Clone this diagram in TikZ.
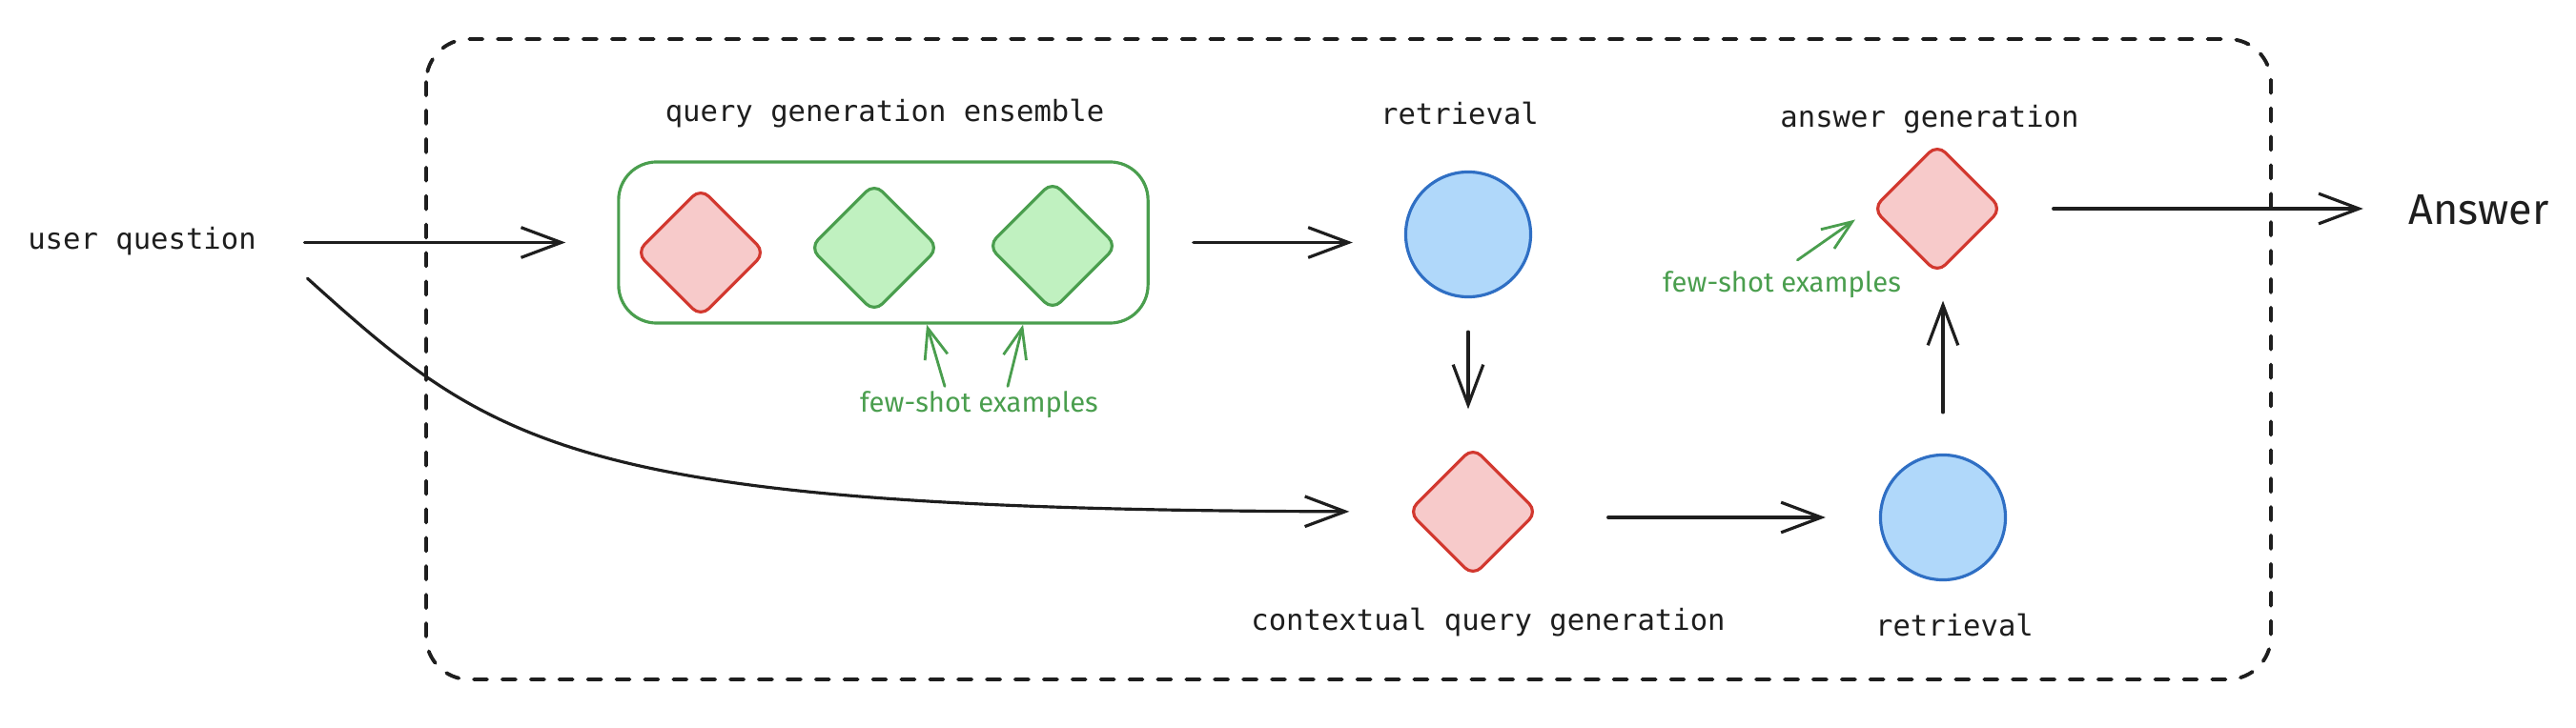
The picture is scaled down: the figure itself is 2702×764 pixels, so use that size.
\documentclass[tikz,border=0pt]{standalone}
\usepackage{fontspec}
\setmainfont{Fira Sans}
\newfontfamily\labelfont{DejaVu Sans Mono}
\usetikzlibrary{arrows.meta,shapes.geometric}
\definecolor{ink}{HTML}{1E1E1E}
\definecolor{redline}{HTML}{D2382F}
\definecolor{redfill}{HTML}{F7CACA}
\definecolor{greenline}{HTML}{4A9E4E}
\definecolor{greenfill}{HTML}{C0F1C0}
\definecolor{blueline}{HTML}{2F6FC4}
\definecolor{bluefill}{HTML}{B0D8FA}
\begin{document}
\begin{tikzpicture}[x=0.01cm, y=-0.01cm,
        lbl/.style={anchor=base, inner sep=0pt, text=ink, font=\labelfont\fontsize{8.7}{10}\selectfont},
        note/.style={anchor=base, inner sep=0pt, text=greenline, font=\fontsize{8.3}{10}\selectfont},
        llm/.style={diamond, aspect=1, minimum size=1.36cm, inner sep=0pt, rounded corners=0.12cm, line width=0.9pt, draw=redline, fill=redfill},
        fewshot/.style={llm, draw=greenline, fill=greenfill},
        ret/.style={circle, minimum size=1.31cm, inner sep=0pt, line width=0.9pt, draw=blueline, fill=bluefill},
        flow/.style={draw=ink, line width=0.9pt, line cap=round, -{Straight Barb[length=12pt,width=9pt]}},
        hint/.style={draw=greenline, line width=0.8pt, line cap=round, -{Straight Barb[length=9pt,width=7pt]}}]
    \useasboundingbox (0,0) rectangle (2702,764);
    \draw[ink, line width=1.1pt, dash pattern=on 4pt off 4.5pt, line cap=round, rounded corners=0.45cm] (447,41) rectangle (2382,713);

    \node[draw=greenline, line width=0.9pt, rounded corners=0.4cm, minimum width=5.55cm, minimum height=1.69cm] (ens) at (926.5,254.5) {};
    \node[llm] (q1) at (735,265) {};
    \node[fewshot] (q2) at (917,260) {};
    \node[fewshot] (q3) at (1104,258) {};
    \node[ret] (ret1) at (1540,246) {};
    \node[llm] (cqg) at (1545,537) {};
    \node[ret] (ret2) at (2038,543) {};
    \node[llm] (ans) at (2032,219) {};

    \node[lbl] (uq) at (149,262) {user question};
    \node[lbl] (enslabel) at (928,128) {query generation ensemble};
    \node[lbl] (rettop) at (1531,131) {retrieval};
    \node[lbl] (anslabel) at (2024,134) {answer generation};
    \node[lbl] (cqglabel) at (1561,662) {contextual query generation};
    \node[lbl] (retbot) at (2050,667) {retrieval};
    \node[note] (fs1) at (1027,433) {few-shot examples};
    \node[note] (fs2) at (1869,307) {few-shot examples};
    \node[anchor=base, inner sep=0pt, text=ink, font=\fontsize{12.8}{14}\selectfont] (answer) at (2600,236) {Answer};

    \draw[flow, shorten <=0.5cm, shorten >=0.54cm] (uq.east |- ens.west) -- (ens.west);
    \draw[flow, shorten >=0.6cm] ([xshift=0.53cm,yshift=-0.23cm]uq.south east) .. controls (520,470) and (600,535) .. (cqg.west);
    \draw[flow, shorten <=0.46cm, shorten >=0.54cm] (ens.east) -- (ens.east -| ret1.west);
    \draw[flow, shorten <=0.35cm, shorten >=0.38cm] (ret1.south) -- (ret1.south |- cqg.north);
    \draw[flow, shorten <=0.72cm, shorten >=0.56cm] (cqg.east |- ret2.west) -- (ret2.west);
    \draw[flow, shorten <=0.43cm, shorten >=0.27cm] (ret2.north) -- (ret2.north |- ans.south);
    \draw[flow, shorten <=0.52cm, shorten >=0.47cm] (ans.east) -- (ans.east -| answer.west);

    \draw[hint] ([xshift=-0.36cm,yshift=0.05cm]fs1.north) -- ([xshift=0.455cm]ens.south);
    \draw[hint] ([xshift=0.30cm,yshift=0.05cm]fs1.north) -- ([xshift=1.465cm]ens.south);
    \draw[hint, shorten <=0.2cm, shorten >=0.2cm] (fs2.north) -- (ans.west);
\end{tikzpicture}
\end{document}
